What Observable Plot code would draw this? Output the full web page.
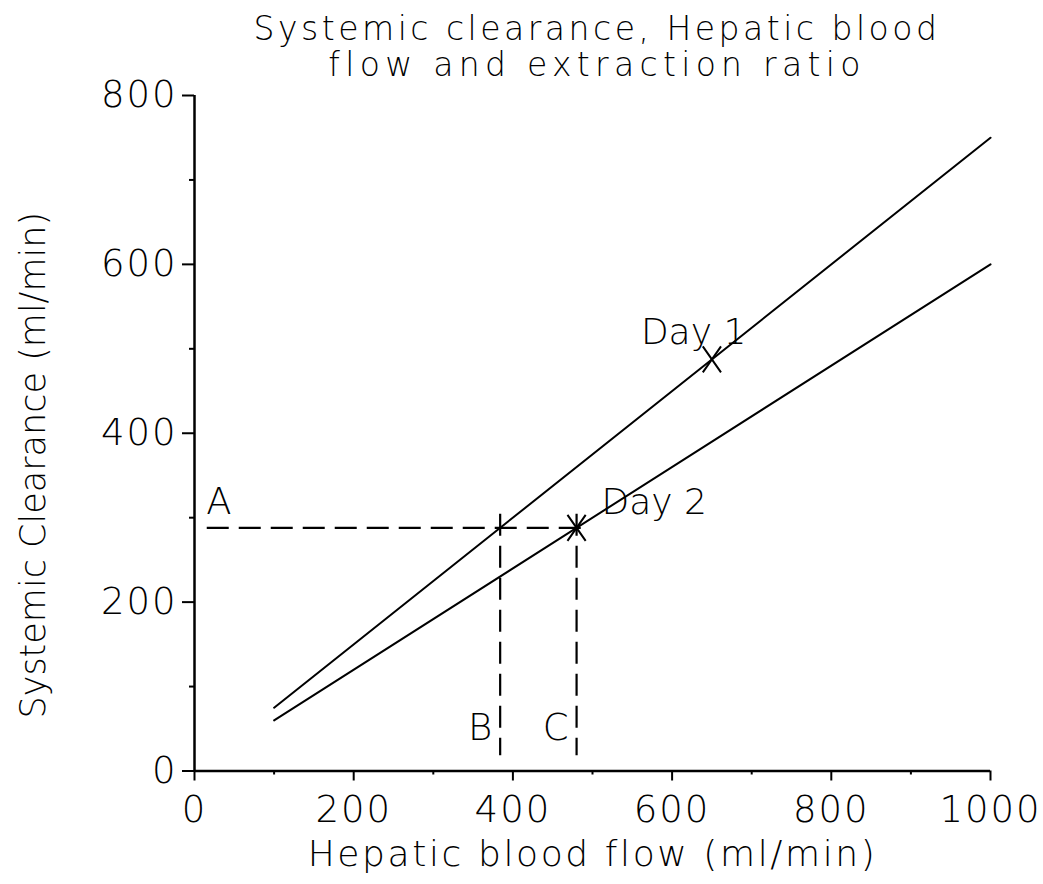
<!DOCTYPE html>
<html>
<head>
<meta charset="utf-8">
<script src="https://cdn.jsdelivr.net/npm/d3@7"></script>
<script src="https://cdn.jsdelivr.net/npm/@observablehq/plot@0.6"></script>
<style>
  html, body { margin: 0; padding: 0; background: #fff; }
  #chart { width: 1043px; height: 884px; overflow: hidden; font-family: "DejaVu Sans", sans-serif; font-weight: 200; }
  #title {
    box-sizing: border-box;
    height: 80px;
    padding-top: 11px;
    padding-left: 151px;
    text-align: center;
    font-size: 33px;
    color: #000;
  }
  #title div { height: 36px; line-height: 36px; white-space: nowrap; }
  #title .l1 { letter-spacing: 3.5px; }
  #title .l2 { letter-spacing: 5.3px; }
  svg { overflow: visible; }
</style>
</head>
<body>
<div id="chart">
  <div id="title"><div class="l1">Systemic clearance, Hepatic blood</div><div class="l2">flow and extraction ratio</div></div>
</div>
<script>
// Axis ticks
const xTicks = [0, 200, 400, 600, 800, 1000];
const xMinorTicks = [100, 300, 500, 700, 900];
const yTicks = [0, 200, 400, 600, 800];
const yMinorTicks = [100, 300, 500, 700];

// Clearance lines: CL = E x Q for two extraction ratios
const flowRange = [100, 1000];
const clearanceDay1 = [75, 750];   // E = 0.75
const clearanceDay2 = [60, 600];   // E = 0.60

// Measured points
const dayNames = ["Day 1", "Day 2"];
const dayFlow = [650, 480];
const dayClearance = [487.5, 288];

// Construction: same clearance (A) (B, C)
const clearanceA = 288;
const guideStartFlow = 16;
const guideEndFlow = 488;
const guideFlows = [384, 480];
const guideLetters = ["B", "C"];
const guideTop = 304;
const guideBottom = 18;

const xTitle = "Hepatic blood flow (ml/min)";
const yTitle = "Systemic Clearance (ml/min)";

const day1Line = flowRange.map((q, i) => ({flow: q, clearance: clearanceDay1[i]}));
const day2Line = flowRange.map((q, i) => ({flow: q, clearance: clearanceDay2[i]}));
const days = dayNames.map((name, i) => ({name, flow: dayFlow[i], clearance: dayClearance[i]}));
const guides = guideFlows.map((q, i) => ({flow: q, letter: guideLetters[i]}));

// Tall "X" cross used for the measured points
const tallCross = {
  draw(context, size) {
    const r = Math.sqrt(size / Math.PI);
    const w = 0.7 * r, h = r;
    context.moveTo(-w, -h); context.lineTo(w, h);
    context.moveTo(w, -h); context.lineTo(-w, h);
  }
};

const font = "DejaVu Sans, sans-serif";
const fs = 37;
const dash = "22,10";

const chart = Plot.plot({
  width: 1043,
  height: 804,
  marginTop: 15,
  marginBottom: 113.5,
  marginLeft: 194,
  marginRight: 53,
  style: {fontFamily: font, fontWeight: 200, fontSize: `${fs}px`, color: "#000", background: "transparent", overflow: "visible"},
  x: {domain: [0, 1000]},
  y: {domain: [0, 800]},
  marks: [
    // axis lines
    Plot.ruleY([0], {stroke: "black", strokeWidth: 2.5}),
    Plot.ruleX([0], {stroke: "black", strokeWidth: 2.5}),
    // x axis
    Plot.axisX(xTicks, {anchor: "bottom", tickSize: 10, tickPadding: 15, tickFormat: d => String(d), strokeWidth: 2, fontSize: fs, label: null}),
    Plot.axisX(xMinorTicks, {anchor: "bottom", tickSize: 4, tickFormat: () => "", strokeWidth: 2, label: null}),
    // y axis
    Plot.axisY(yTicks, {anchor: "left", tickSize: 12, tickPadding: 5, tickFormat: d => String(d), strokeWidth: 2, fontSize: fs, label: null}),
    Plot.axisY(yMinorTicks, {anchor: "left", tickSize: 5, tickFormat: () => "", strokeWidth: 2, label: null}),
    // axis titles
    Plot.text([xTitle], {frameAnchor: "bottom", textAnchor: "middle", dy: 83, lineAnchor: "middle", fontSize: 36, fontFamily: font, fontWeight: 200}),
    Plot.text([yTitle], {frameAnchor: "left", textAnchor: "middle", rotate: -90, dx: -161, dy: 32, lineAnchor: "middle", fontSize: 35, fontFamily: font, fontWeight: 200}),
    // extraction ratio lines
    Plot.line(day1Line, {x: "flow", y: "clearance", stroke: "black", strokeWidth: 2}),
    Plot.line(day2Line, {x: "flow", y: "clearance", stroke: "black", strokeWidth: 2}),
    // dashed construction lines
    Plot.ruleY([clearanceA], {x1: guideStartFlow, x2: guideEndFlow, stroke: "black", strokeWidth: 2.2, strokeDasharray: dash}),
    Plot.ruleX(guides, {x: "flow", y1: guideTop, y2: guideBottom, stroke: "black", strokeWidth: 2.2, strokeDasharray: dash}),
    Plot.text(["A"], {x: guideStartFlow, y: clearanceA, textAnchor: "start", lineAnchor: "middle", dx: -1, dy: -26, fontSize: fs}),
    Plot.text(guides, {x: "flow", y: guideBottom, text: "letter", textAnchor: "end", lineAnchor: "middle", dx: -8, dy: -28, fontSize: fs}),
    // measured points
    Plot.dot(days, {x: "flow", y: "clearance", symbol: tallCross, r: 13, stroke: "black", strokeWidth: 2}),
    Plot.text(days, {x: "flow", y: "clearance", text: "name", textAnchor: "start", lineAnchor: "middle",
      fontSize: 36, filter: d => d.name === "Day 1", dx: -71, dy: -27}),
    Plot.text(days, {x: "flow", y: "clearance", text: "name", textAnchor: "start", lineAnchor: "middle",
      fontSize: 36, filter: d => d.name === "Day 2", dx: 25, dy: -25})
  ]
});

// Slightly open letter spacing for the tick labels and the x title
const svg = d3.select(chart);
svg.selectAll("text").filter(function() {
  return /^\d+$/.test(this.textContent);
}).style("letter-spacing", "2px");
svg.selectAll("text").filter(function() {
  return this.textContent === xTitle;
}).style("letter-spacing", "2.6px");

document.getElementById("chart").appendChild(chart);
</script>
</body>
</html>
